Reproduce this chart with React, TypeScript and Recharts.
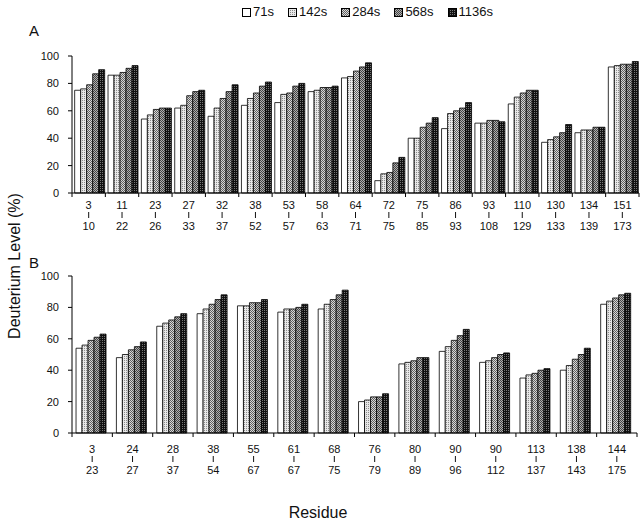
import React from 'react';
import { BarChart, Bar, XAxis, YAxis, Legend } from 'recharts';

// exchange times
const SERIES = ['71s', '142s', '284s', '568s', '1136s'];
const FILLS = ['#ffffff', 'url(#p142)', 'url(#p284)', 'url(#p568)', 'url(#p1136)'];

// panel A
const residuesA = ['3-10', '11-22', '23-26', '27-33', '32-37', '38-52', '53-57', '58-63', '64-71', '72-75', '75-85', '86-93', '93-108', '110-129', '130-133', '134-139', '151-173'];
const a71 = [75, 86, 54, 62, 56, 64, 66, 74, 84, 9, 40, 47, 51, 65, 37, 44, 92];
const a142 = [76, 86, 57, 64, 62, 69, 72, 75, 85, 14, 40, 58, 51, 70, 39, 46, 93];
const a284 = [79, 88, 61, 71, 69, 73, 73, 77, 89, 15, 48, 60, 53, 73, 41, 46, 94];
const a568 = [87, 91, 62, 74, 74, 78, 78, 77, 92, 22, 51, 62, 53, 75, 44, 48, 94];
const a1136 = [90, 93, 62, 75, 79, 81, 80, 78, 95, 26, 55, 66, 52, 75, 50, 48, 96];

// panel B
const residuesB = ['3-23', '24-27', '28-37', '38-54', '55-67', '61-67', '68-75', '76-79', '80-89', '90-96', '90-112', '113-137', '138-143', '144-175'];
const b71 = [54, 48, 68, 76, 81, 77, 79, 20, 44, 52, 45, 35, 40, 82];
const b142 = [56, 50, 70, 79, 81, 79, 82, 21, 45, 55, 46, 37, 43, 84];
const b284 = [59, 53, 72, 82, 83, 79, 85, 23, 46, 59, 48, 38, 47, 86];
const b568 = [61, 55, 74, 85, 83, 80, 88, 23, 48, 62, 50, 40, 50, 88];
const b1136 = [63, 58, 76, 88, 85, 82, 91, 25, 48, 66, 51, 41, 54, 89];

const yTicks = [0, 20, 40, 60, 80, 100];

const FONT = '"Liberation Sans", Arial, sans-serif';

function buildRows(cats: string[], cols: number[][]) {
  return cats.map((c, i) => {
    const row: any = { residue: c };
    SERIES.forEach((s, j) => (row[s] = cols[j][i]));
    return row;
  });
}

const dataA = buildRows(residuesA, [a71, a142, a284, a568, a1136]);
const dataB = buildRows(residuesB, [b71, b142, b284, b568, b1136]);

// tick with boundary marks and the "start | end" label
const makeTick = (band: number, count: number, d1: number, d2: number) => (props: any) => {
  const { x, y, payload, index } = props;
  const [s, e] = String(payload.value).split('-');
  const left = x - band / 2;
  return (
    <g>
      <line x1={left} x2={left} y1={y} y2={y + 4} stroke="#000" />
      {index === count - 1 && <line x1={x + band / 2} x2={x + band / 2} y1={y} y2={y + 4} stroke="#000" />}
      <text x={x} y={y + d1} textAnchor="middle" fontSize={11} fontFamily={FONT} fill="#111">{s}</text>
      <line x1={x} x2={x} y1={y + d1 + 3} y2={y + d1 + 9} stroke="#111" strokeWidth={1} />
      <text x={x} y={y + d2} textAnchor="middle" fontSize={11} fontFamily={FONT} fill="#111">{e}</text>
    </g>
  );
};

const LegendBox = () => (
  <div style={{ display: 'flex', gap: 14, fontFamily: FONT, fontSize: 13, color: '#111', lineHeight: '14px' }}>
    {SERIES.map((s, i) => (
      <div key={s} style={{ display: 'flex', alignItems: 'center' }}>
        <svg width={9} height={9} style={{ marginRight: 2 }}>
          <rect x={0.5} y={0.5} width={8} height={8} fill={FILLS[i]} stroke="#000" />
        </svg>
        <span>{s}</span>
      </div>
    ))}
  </div>
);

function Panel({ data, cats, top, marginTop, marginRight, gap, d1, d2, legend }: any) {
  const band = (640 - 72 - marginRight) / cats.length;
  return (
    <div style={{ position: 'absolute', left: 0, top }}>
      <BarChart width={640} height={245} data={data} margin={{ top: marginTop, right: marginRight, bottom: 2, left: 0 }}
        barCategoryGap={gap} barGap={0}>
        <XAxis dataKey="residue" interval={0} tickLine={false} tickSize={0} tickMargin={0} height={50}
          axisLine={{ stroke: '#000' }} tick={makeTick(band, cats.length, d1, d2)} />
        <YAxis width={72} domain={[0, 100]} ticks={yTicks} tickSize={4} tickMargin={9}
          axisLine={{ stroke: '#000' }} tickLine={{ stroke: '#000' }}
          tick={{ fontSize: 11, fontFamily: FONT, fill: '#111' }} />
        {legend && (
          <Legend content={<LegendBox />} verticalAlign="top" align="left"
            wrapperStyle={{ position: 'absolute', top: 5, left: 242, width: 300 }} />
        )}
        {SERIES.map((s, i) => (
          <Bar key={s} dataKey={s} fill={FILLS[i]} stroke="#000" strokeWidth={0.8} isAnimationActive={false} />
        ))}
      </BarChart>
    </div>
  );
}

export default function App() {
  return (
    <div style={{ position: 'absolute', left: 0, top: 0, width: 640, height: 524, background: '#fff', overflow: 'hidden' }}>
      <svg width={0} height={0} style={{ position: 'absolute' }}>
        <defs>
          <pattern id="p142" width={2} height={2} patternUnits="userSpaceOnUse">
            <rect width={2} height={2} fill="#e8e8e8" />
            <rect width={1} height={1} fill="#8c8c8c" />
          </pattern>
          <pattern id="p284" width={2} height={2} patternUnits="userSpaceOnUse">
            <rect width={2} height={2} fill="#d8d8d8" />
            <rect width={1} height={1} fill="#606060" />
            <rect x={1} y={1} width={1} height={1} fill="#606060" />
          </pattern>
          <pattern id="p568" width={2} height={2} patternUnits="userSpaceOnUse">
            <rect width={2} height={2} fill="#b0b0b0" />
            <rect width={1} height={1} fill="#444" />
            <rect x={1} y={1} width={1} height={1} fill="#444" />
          </pattern>
          <pattern id="p1136" width={2} height={2} patternUnits="userSpaceOnUse">
            <rect width={2} height={2} fill="#111" />
            <rect width={1} height={1} fill="#777" />
          </pattern>
        </defs>
      </svg>
      <Panel data={dataA} cats={residuesA} top={0} marginTop={42} marginRight={1} gap="8%" d1={16} d2={37} legend />
      <Panel data={dataB} cats={residuesB} top={240} marginTop={36} marginRight={3} gap="10%" d1={20} d2={41} />
      <svg width={640} height={524} style={{ position: 'absolute', left: 0, top: 0, pointerEvents: 'none' }}>
        <text x={29} y={36} fontSize={15} fontFamily={FONT} fill="#111">A</text>
        <text x={29} y={268} fontSize={15} fontFamily={FONT} fill="#111">B</text>
        <text transform="translate(20,266) rotate(-90)" textAnchor="middle" fontSize={16} fontFamily={FONT} fill="#111">Deuterium Level (%)</text>
        <text x={318} y={518} textAnchor="middle" fontSize={16} fontFamily={FONT} fill="#111">Residue</text>
      </svg>
    </div>
  );
}
